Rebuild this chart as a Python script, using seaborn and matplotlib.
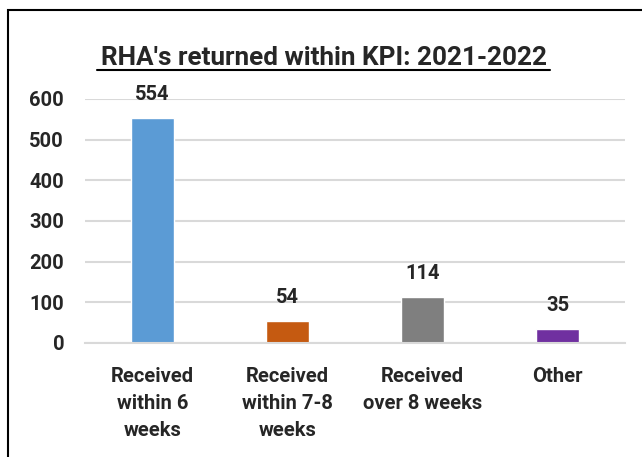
import matplotlib
matplotlib.use("Agg")
import matplotlib.pyplot as plt
import seaborn as sns
import pandas as pd
from matplotlib.patches import Rectangle

categories = ["Received\nwithin 6\nweeks", "Received\nwithin 7-8\nweeks", "Received\nover 8 weeks", "Other"]
counts = [554, 54, 114, 35]
bar_colors = ["#5B9BD5", "#C55A11", "#7F7F7F", "#7030A0"]
yticks = [0, 100, 200, 300, 400, 500, 600]

sns.set_theme(style="white")
plt.rcParams['font.family'] = ['Roboto', 'DejaVu Sans']

df = pd.DataFrame({"category": categories, "count": counts})

fig = plt.figure(figsize=(6.42, 4.57), dpi=100)
ax = fig.add_axes([0.1324, 0.2495, 0.8411, 0.5339])

sns.barplot(data=df, x="category", y="count", hue="category", palette=bar_colors,
            width=0.32, saturation=1, legend=False, ax=ax)

ax.set_ylim(0, 600)
ax.set_yticks(yticks)
ax.yaxis.grid(True, color="#D9D9D9", linewidth=1.5)
ax.set_axisbelow(True)
for s in ["top", "right", "left"]:
    ax.spines[s].set_visible(False)
ax.spines["bottom"].set_color("#D9D9D9")
ax.spines["bottom"].set_linewidth(1.5)
ax.tick_params(axis="y", length=0, pad=15, labelsize=14.5)
ax.tick_params(axis="x", length=0, pad=17, labelsize=14.5)
for lab in ax.get_yticklabels() + ax.get_xticklabels():
    lab.set_fontweight("bold")
for lab in ax.get_xticklabels():
    lab.set_linespacing(1.55)
ax.set_xlabel("")
ax.set_ylabel("")

for i, v in enumerate(counts):
    ax.annotate(str(v), (i, v), xytext=(0, 10), textcoords="offset points",
                ha="center", va="bottom", fontsize=14.5, fontweight="bold")

fig.text(0.505, 1 - 58 / 457, "RHA's returned within KPI: 2021-2022", ha="center", va="center",
         fontsize=18.8, fontweight="bold")
# underline
fig.add_artist(plt.Line2D([97 / 642, 550 / 642], [1 - 70 / 457, 1 - 70 / 457], color="black", linewidth=1.5))

# clipped frame
fig.add_artist(Rectangle((8 / 642, -0.1), 1.2, 1 - 10 / 457 + 0.1, fill=False,
                         edgecolor="black", linewidth=1.5, transform=fig.transFigure))

fig.savefig("out.png", dpi=100)
